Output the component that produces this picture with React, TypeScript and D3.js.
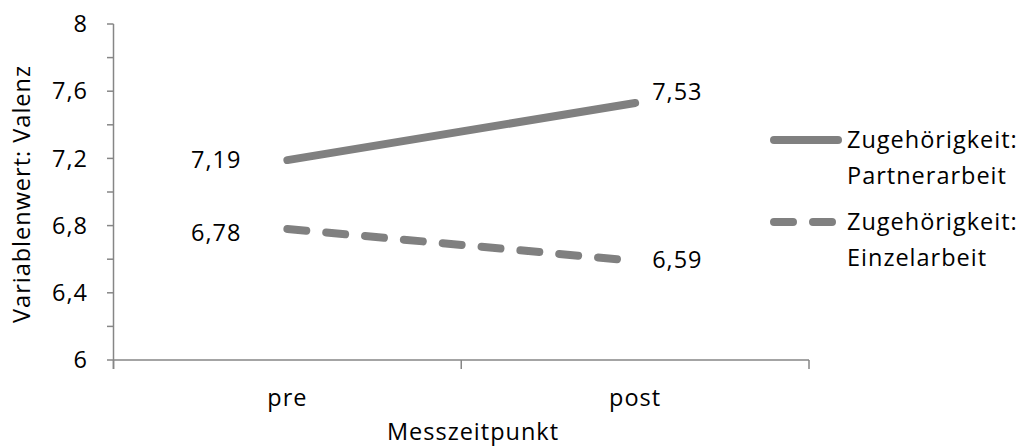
import React from "react";
import * as d3 from "d3";

const categories = ["pre", "post"];
const seriesNames = ["Zugehörigkeit: Partnerarbeit", "Zugehörigkeit: Einzelarbeit"];
const partnerValues = [7.19, 7.53];
const einzelValues = [6.78, 6.59];
const yTicks = [6, 6.4, 6.8, 7.2, 7.6, 8];
const yMinorTicks = [6.2, 6.6, 7.0, 7.4, 7.8];
const yTitle = "Variablenwert: Valenz";
const xTitle = "Messzeitpunkt";

const W = 1027;
const H = 446;
const FONT = "'Open Sans', Lato, sans-serif";
const FS = 23.5;
const LS = 1;
const AXIS = "#868686";
const LINE = "#808080";

export default function App() {
  const x = d3.scaleBand().domain(categories).range([113.5, 809]);
  const cx = (c: string) => (x(c) as number) + x.bandwidth() / 2;
  const y = d3.scaleLinear().domain([6, 8]).range([360, 24]);
  const line = d3
    .line<number>()
    .x((_, i) => cx(categories[i]))
    .y((d) => y(d));
  const fmt = (v: number) => v.toFixed(2).replace(".", ",");
  const fmtTick = (v: number) => (Number.isInteger(v) ? String(v) : v.toFixed(1).replace(".", ","));

  const series = [
    { name: seriesNames[0], values: partnerValues, dash: undefined as string | undefined },
    { name: seriesNames[1], values: einzelValues, dash: "19 20" },
  ];

  const labelOffsets = [
    [
      [-46, 0],
      [17, -11],
    ],
    [
      [-46, 4],
      [17, -1],
    ],
  ];

  const bandEdges = [x.range()[0], ...categories.map((c) => (x(c) as number) + x.bandwidth())];

  return (
    <svg
      width={W}
      height={H}
      style={{ position: "absolute", left: 0, top: 0, background: "#fff", letterSpacing: LS }}
      fontFamily={FONT}
    >
      {/* y axis */}
      <line x1={113.5} x2={113.5} y1={y(8)} y2={369} stroke={AXIS} strokeWidth={1.5} />
      {yTicks.map((t) => (
        <g key={"t" + t}>
          <line x1={107} x2={113.5} y1={y(t)} y2={y(t)} stroke={AXIS} strokeWidth={1.5} />
          <text x={88} y={y(t)} dy="0.35em" textAnchor="end" fontSize={FS} fill="#000">
            {fmtTick(t)}
          </text>
        </g>
      ))}
      {yMinorTicks.map((t) => (
        <line key={"m" + t} x1={107} x2={113.5} y1={y(t)} y2={y(t)} stroke={AXIS} strokeWidth={1.5} />
      ))}
      {/* x axis */}
      <line x1={113.5} x2={809} y1={y(6)} y2={y(6)} stroke={AXIS} strokeWidth={1.5} />
      {bandEdges.map((e, i) => (
        <line key={"xe" + i} x1={e} x2={e} y1={y(6)} y2={369} stroke={AXIS} strokeWidth={1.5} />
      ))}
      {categories.map((c) => (
        <text key={c} x={cx(c)} y={398} dy="0.35em" textAnchor="middle" fontSize={FS} fill="#000">
          {c}
        </text>
      ))}
      <text x={473} y={432} dy="0.35em" textAnchor="middle" fontSize={FS} fill="#000">
        {xTitle}
      </text>
      <text
        transform={`translate(22, 194) rotate(-90)`}
        dy="0.35em"
        textAnchor="middle"
        fontSize={FS}
        fill="#000"
      >
        {yTitle}
      </text>

      {/* series */}
      {series.map((s, si) => (
        <g key={s.name}>
          <path
            d={line(s.values) || ""}
            fill="none"
            stroke={LINE}
            strokeWidth={8}
            strokeLinecap="round"
            strokeDasharray={s.dash}
          />
          {s.values.map((v, i) => (
            <text
              key={i}
              x={cx(categories[i]) + labelOffsets[si][i][0]}
              y={y(v) + labelOffsets[si][i][1]}
              dy="0.35em"
              textAnchor={i === 0 ? "end" : "start"}
              fontSize={FS}
              fill="#000"
            >
              {fmt(v)}
            </text>
          ))}
        </g>
      ))}

      {/* legend */}
      {series.map((s, si) => {
        const ly = si === 0 ? 140 : 222;
        const parts = s.name.split(" ");
        return (
          <g key={"lg" + si}>
            <line
              x1={774}
              x2={838}
              y1={ly}
              y2={ly}
              stroke={LINE}
              strokeWidth={8}
              strokeLinecap="round"
              strokeDasharray={si === 1 ? "19 20" : undefined}
            />
            <text x={847} y={ly} dy="0.35em" fontSize={FS} fill="#000">
              {parts[0]}
            </text>
            <text x={847} y={ly + 36} dy="0.35em" fontSize={FS} fill="#000">
              {parts[1]}
            </text>
          </g>
        );
      })}
    </svg>
  );
}
